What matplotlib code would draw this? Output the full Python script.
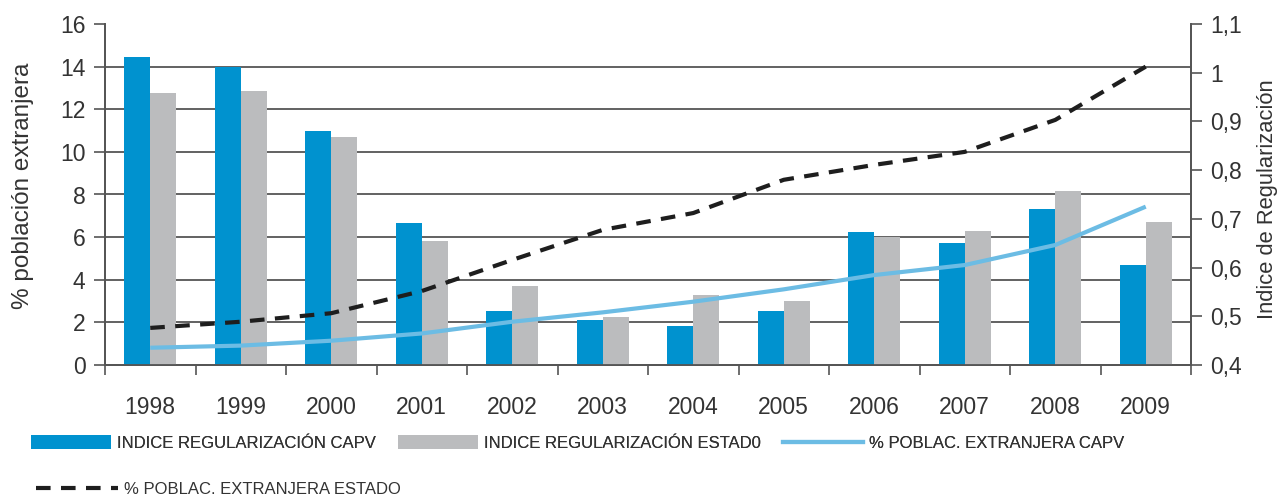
import matplotlib
matplotlib.use("Agg")
import matplotlib.pyplot as plt
from matplotlib.patches import Patch
from matplotlib.lines import Line2D
import numpy as np

years = ["1998", "1999", "2000", "2001", "2002", "2003", "2004", "2005", "2006", "2007", "2008", "2009"]
indice_capv = [1.032, 1.012, 0.880, 0.691, 0.511, 0.492, 0.480, 0.511, 0.673, 0.650, 0.720, 0.605]
indice_estado = [0.958, 0.963, 0.868, 0.655, 0.562, 0.498, 0.544, 0.531, 0.662, 0.675, 0.757, 0.694]
pobl_capv = [0.81, 0.91, 1.14, 1.48, 2.03, 2.47, 2.97, 3.55, 4.22, 4.69, 5.63, 7.43]
pobl_estado = [1.74, 2.03, 2.43, 3.47, 4.93, 6.34, 7.13, 8.69, 9.39, 10.0, 11.5, 14.0]
left_ticks = [0, 2, 4, 6, 8, 10, 12, 14, 16]
right_ticks = [0.4, 0.5, 0.6, 0.7, 0.8, 0.9, 1.0, 1.1]
right_labels = ["0,4", "0,5", "0,6", "0,7", "0,8", "0,9", "1", "1,1"]

BLUE = "#0092CF"
GRAY = "#BBBCBE"
LBLUE = "#6CBCE4"
DARK = "#1E1E1E"
GRID = "#555555"
TXT = "#333333"
DASH = (0, (3.5, 2.5))

plt.rcParams['font.family'] = ['Liberation Sans', 'DejaVu Sans']

fig = plt.figure(figsize=(12.78, 4.98), dpi=100)
ax = fig.add_axes([105/1278, 1 - 365/498, (1191-105)/1278, (365-24)/498])
ax2 = ax.twinx()

x = np.arange(len(years))
w = 0.29

# bars on the right (index) axis
ax2.bar(x - w/2, np.array(indice_capv) - 0.4, bottom=0.4, width=w, color=BLUE, zorder=3)
ax2.bar(x + w/2, np.array(indice_estado) - 0.4, bottom=0.4, width=w, color=GRAY, zorder=3)
ax2.set_ylim(0.4, 1.1)
ax2.set_yticks(right_ticks)
ax2.set_yticklabels(right_labels)
# grid at the left-axis ticks drawn on ax2 (behind the bars)
ax2.set_yticks(np.linspace(0.4, 1.1, len(left_ticks)), minor=True)
ax2.yaxis.grid(True, which='minor', color=GRID, linewidth=1.3, zorder=0)
ax2.set_axisbelow(True)
ax2.tick_params(axis='y', which='minor', length=0)
ax2.tick_params(axis='y', which='major', direction='out', length=8, width=1.2, color=GRID,
                labelsize=16.5, labelcolor=TXT, pad=6)
ax2.set_ylabel("Indice de Regularización", fontsize=15.8, color=TXT)
ax2.yaxis.set_label_coords(1.0605, 0.487)

# lines on the left (%) axis, drawn above bars
ax.set_zorder(ax2.get_zorder() + 1)
ax.patch.set_visible(False)
ax.plot(x, pobl_capv, color=LBLUE, linewidth=3.0, solid_capstyle='butt', zorder=4)
ax.plot(x, pobl_estado, color=DARK, linewidth=3.0, linestyle=DASH, zorder=5)
ax.set_ylim(0, 16)
ax.set_yticks(left_ticks)
ax.tick_params(axis='y', direction='out', length=8, width=1.2, color=GRID,
               labelsize=16.5, labelcolor=TXT, pad=6)
ax.set_ylabel("% población extranjera", fontsize=17.5, color=TXT)
ax.yaxis.set_label_coords(-0.0655, 0.525)

ax.set_xlim(-0.5, len(years) - 0.5)
ax.set_xticks(np.arange(-0.5, len(years)), minor=False)
ax.set_xticklabels([])
ax.set_xticks(x, minor=True)
ax.set_xticklabels(years, minor=True)
ax.tick_params(axis='x', which='major', direction='out', length=7, width=1.2, color=GRID)
ax.tick_params(axis='x', which='minor', length=0, labelsize=16.5, labelcolor=TXT, pad=22)

for a in (ax, ax2):
    a.spines['top'].set_visible(False)
    for s in ('left', 'right', 'bottom'):
        a.spines[s].set_color(GRID)
        a.spines[s].set_linewidth(1.3)
ax2.tick_params(axis='x', which='both', length=0)

legprops = {'family': ['Liberation Sans', 'DejaVu Sans'], 'size': 12.0}
row1 = fig.legend(
    [Patch(facecolor=BLUE, edgecolor='none'), Patch(facecolor=GRAY, edgecolor='none'),
     Line2D([], [], color=LBLUE, linewidth=3.0)],
    ["INDICE REGULARIZACIÓN CAPV", "INDICE REGULARIZACIÓN ESTAD0", "% POBLAC. EXTRANJERA CAPV"],
    ncol=3, loc='center left', bbox_to_anchor=(31/1278, 1 - 443/498), frameon=False,
    prop=legprops, handlelength=4.8, handleheight=0.9, handletextpad=0.35,
    columnspacing=1.35, borderpad=0, borderaxespad=0)
row2 = fig.legend(
    [Line2D([], [], color=DARK, linewidth=3.0, linestyle=DASH)],
    ["% POBLAC. EXTRANJERA ESTADO"],
    loc='center left', bbox_to_anchor=(36/1278, 1 - 489/498), frameon=False,
    prop=legprops, handlelength=4.9, handletextpad=0.35, borderpad=0, borderaxespad=0)
fig.add_artist(row1)
for leg in (row1, row2):
    for t in leg.get_texts():
        t.set_color(TXT)

fig.savefig("out.png", dpi=100)
